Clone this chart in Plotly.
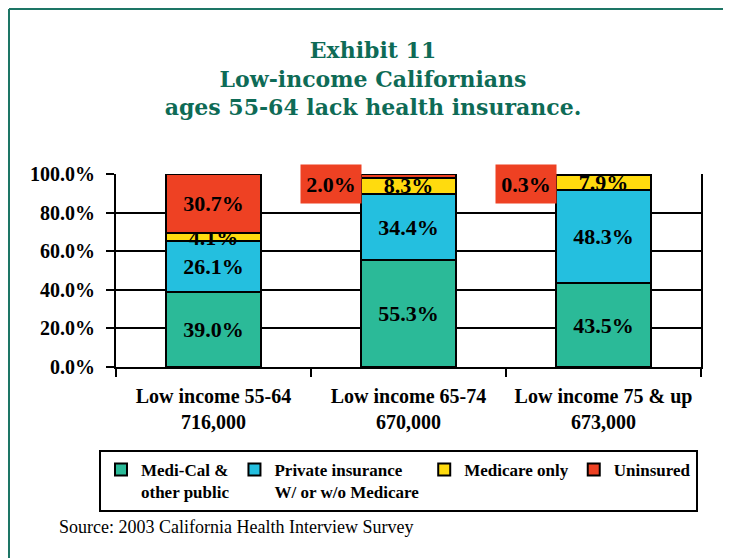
import plotly.graph_objects as go

categories = ["Low income 55-64<br>716,000", "Low income 65-74<br>670,000", "Low income 75 &amp; up<br>673,000"]
medi_cal = [39.0, 55.3, 43.5]
private_ins = [26.1, 34.4, 48.3]
medicare_only = [4.1, 8.3, 7.9]
uninsured = [30.7, 2.0, 0.3]
series_names = ["Medi-Cal &amp;<br>other public", "Private insurance<br>W/ or w/o Medicare", "Medicare only", "Uninsured"]
y_ticks = [0, 20, 40, 60, 80, 100]
y_tick_text = [f"{v:.1f}%" for v in y_ticks]

colors = ["#2BBA98", "#24BFDF", "#FFDB0E", "#EE4123"]
OFF = 8  # page body margin
W, H = 731 - OFF, 558 - OFF
ML, MR, MT, MB = 108, 30, 166, 191
PW, PH = W - ML - MR, H - MT - MB

def px_x(p):
    return (p - OFF - ML) / PW

def px_y(p):
    return (H - MB - (p - OFF)) / PH

SERIF = "Liberation Serif"
fig = go.Figure()
all_series = [medi_cal, private_ins, medicare_only, uninsured]
for name, vals, col in zip(series_names, all_series, colors):
    if vals is uninsured:
        txt = [f"{v:.1f}%" if v >= 10 else "" for v in vals]
    else:
        txt = [f"{v:.1f}%" for v in vals]
    fig.add_trace(go.Bar(
        x=categories, y=vals, name=name, text=txt,
        textposition="inside", insidetextanchor="middle", textangle=0,
        textfont=dict(family=SERIF, size=22, color="black", weight="bold"),
        marker=dict(color=col, line=dict(color="black", width=2)),
        width=0.49, hoverinfo="skip",
    ))

annotations = []
for i, v in enumerate(uninsured):
    if v < 10:
        annotations.append(dict(
            x=categories[i], y=100, xref="x", yref="y",
            text=f"{v:.1f}%", showarrow=False,
            xanchor="center", yanchor="middle", xshift=-78, yshift=-10,
            bgcolor=colors[3], width=50, height=28, borderpad=5,
            font=dict(family=SERIF, size=22, color="black", weight="bold"),
        ))
annotations.append(dict(
    x=px_x(57), y=px_y(527), xref="paper", yref="paper",
    text="Source: 2003 California Health Interview Survey", showarrow=False,
    xanchor="left", yanchor="middle",
    font=dict(family=SERIF, size=18, color="black"),
))

frame_col = "#1d7565"
shapes = [
    dict(type="line", xref="paper", yref="paper", x0=px_x(9), x1=px_x(9), y0=px_y(9), y1=px_y(570),
         line=dict(color=frame_col, width=2)),
    dict(type="line", xref="paper", yref="paper", x0=px_x(9), x1=px_x(740), y0=px_y(9), y1=px_y(9),
         line=dict(color=frame_col, width=2)),
]

fig.update_layout(
    width=W, height=H,
    margin=dict(l=ML, r=MR, t=MT, b=MB),
    barmode="stack", bargap=0.51,
    paper_bgcolor="white", plot_bgcolor="white",
    uniformtext=dict(minsize=22, mode="show"),
    title=dict(
        text="Exhibit 11<br>Low-income Californians<br>ages 55-64 lack health insurance.",
        x=(373 - OFF) / W, xref="container", xanchor="center",
        y=1 - (78 - OFF - 20) / H, yref="container", yanchor="middle",
        font=dict(family="DejaVu Serif", size=22, color="#0E6B56", weight="bold"),
    ),
    xaxis=dict(
        showline=True, linecolor="black", linewidth=2,
        ticks="outside", tickson="boundaries", ticklen=8, tickwidth=2, tickcolor="black",
        tickfont=dict(family=SERIF, size=20, color="black", weight="bold"),
        ticklabelstandoff=10, showgrid=False,
    ),
    yaxis=dict(
        range=[0, 100], tickvals=y_ticks, ticktext=y_tick_text,
        showline=True, linecolor="black", linewidth=2, mirror=True,
        ticks="outside", ticklen=8, tickwidth=2, tickcolor="black",
        tickfont=dict(family=SERIF, size=20, color="black", weight="bold"),
        ticklabelstandoff=7,
        showgrid=True, gridcolor="black", gridwidth=2, zeroline=False,
    ),
    legend=dict(
        orientation="h", xref="paper", yref="paper",
        x=px_x(99), xanchor="left", y=px_y(450), yanchor="top",
        font=dict(family=SERIF, size=17, color="black", weight="bold"),
        bordercolor="black", borderwidth=2, bgcolor="white",
        valign="top", traceorder="normal",
    ),
    annotations=annotations,
    shapes=shapes,
    showlegend=True,
)

fig.write_html("out.html")
